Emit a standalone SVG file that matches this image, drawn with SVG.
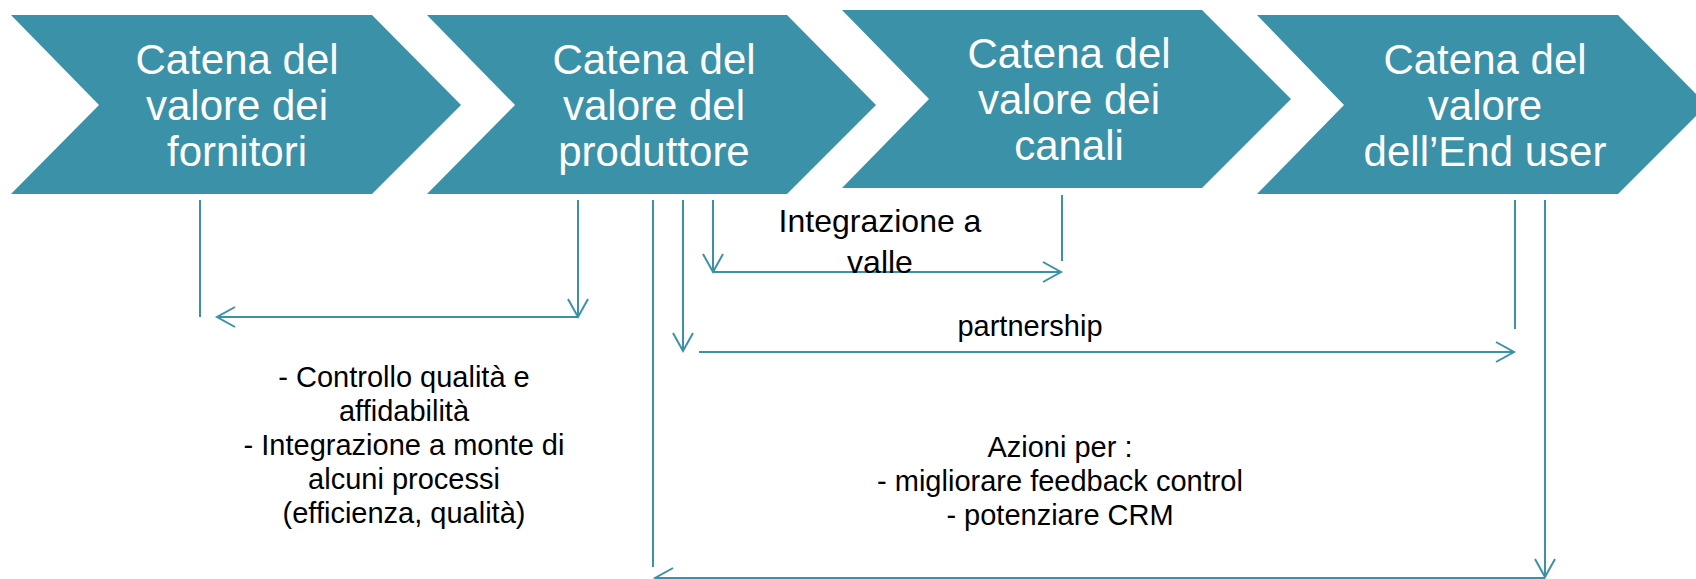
<svg xmlns="http://www.w3.org/2000/svg" width="1696" height="579" viewBox="0 0 1696 579">
<style>
.chev{fill:#3B91A8}
.ct{fill:#ffffff;font-family:"Liberation Sans",Arial,sans-serif;font-size:42px;text-anchor:middle}
.lbl{fill:#000000;font-family:"Liberation Sans",Arial,sans-serif;text-anchor:middle}
.c{fill:none;stroke:#3B91A8;stroke-width:2}
</style>
<defs>
<marker id="arr" markerUnits="userSpaceOnUse" markerWidth="24" markerHeight="24" viewBox="-20 -12 24 24" refX="0" refY="0" orient="auto" overflow="visible">
<path d="M-18,-10 L0,0 L-18,10" fill="none" stroke="#3B91A8" stroke-width="2"/>
</marker>
</defs>
<rect width="1696" height="579" fill="#ffffff"/>
<g id="n1">
<polygon class="chev" points="11,15 372,15 461,105 372,194 11,194 99,105"/>
<text class="ct" x="237" y="74">Catena del</text>
<text class="ct" x="237" y="120">valore dei</text>
<text class="ct" x="237" y="166">fornitori</text>
</g>
<g id="n2">
<polygon class="chev" points="427,15 787,15 876,105 787,194 427,194 515,105"/>
<text class="ct" x="654" y="74">Catena del</text>
<text class="ct" x="654" y="120">valore del</text>
<text class="ct" x="654" y="166">produttore</text>
</g>
<g id="n3">
<polygon class="chev" points="842,10 1202,10 1291,99 1202,188 842,188 929,99"/>
<text class="ct" x="1069" y="68">Catena del</text>
<text class="ct" x="1069" y="114">valore dei</text>
<text class="ct" x="1069" y="160">canali</text>
</g>
<g id="n4">
<polygon class="chev" points="1257,15 1618,15 1707,105 1618,194 1257,194 1344,105"/>
<text class="ct" x="1485" y="74">Catena del</text>
<text class="ct" x="1485" y="120">valore</text>
<text class="ct" x="1485" y="166">dell’End user</text>
</g>
<g id="connectors">
<line class="c" x1="200" y1="200" x2="200" y2="317"/>
<line class="c" x1="578" y1="200" x2="578" y2="317" marker-end="url(#arr)"/>
<line class="c" x1="578" y1="317" x2="217" y2="317" marker-end="url(#arr)"/>
<line class="c" x1="713" y1="200" x2="713" y2="272" marker-end="url(#arr)"/>
<line class="c" x1="713" y1="272" x2="1061" y2="272" marker-end="url(#arr)"/>
<line class="c" x1="1062" y1="195" x2="1062" y2="261"/>
<line class="c" x1="683" y1="200" x2="683" y2="351" marker-end="url(#arr)"/>
<line class="c" x1="699" y1="352" x2="1514" y2="352" marker-end="url(#arr)"/>
<line class="c" x1="1515" y1="200" x2="1515" y2="329"/>
<line class="c" x1="653" y1="200" x2="653" y2="567"/>
<line class="c" x1="1545" y1="200" x2="1545" y2="577" marker-end="url(#arr)"/>
<line class="c" x1="1545" y1="578" x2="655" y2="578" marker-end="url(#arr)"/>
</g>
<g id="labels">
<text class="lbl" font-size="32" x="880" y="232">Integrazione a</text>
<text class="lbl" font-size="32" x="880" y="273">valle</text>
<text class="lbl" font-size="29" x="1030" y="336">partnership</text>
<text class="lbl" font-size="29" x="404" y="387">- Controllo qualità e</text>
<text class="lbl" font-size="29" x="404" y="421">affidabilità</text>
<text class="lbl" font-size="29" x="404" y="455">- Integrazione a monte di</text>
<text class="lbl" font-size="29" x="404" y="489">alcuni processi</text>
<text class="lbl" font-size="29" x="404" y="523">(efficienza, qualità)</text>
<text class="lbl" font-size="29" x="1060" y="457">Azioni per :</text>
<text class="lbl" font-size="29" x="1060" y="491">- migliorare feedback control</text>
<text class="lbl" font-size="29" x="1060" y="525">- potenziare CRM</text>
</g>
</svg>
